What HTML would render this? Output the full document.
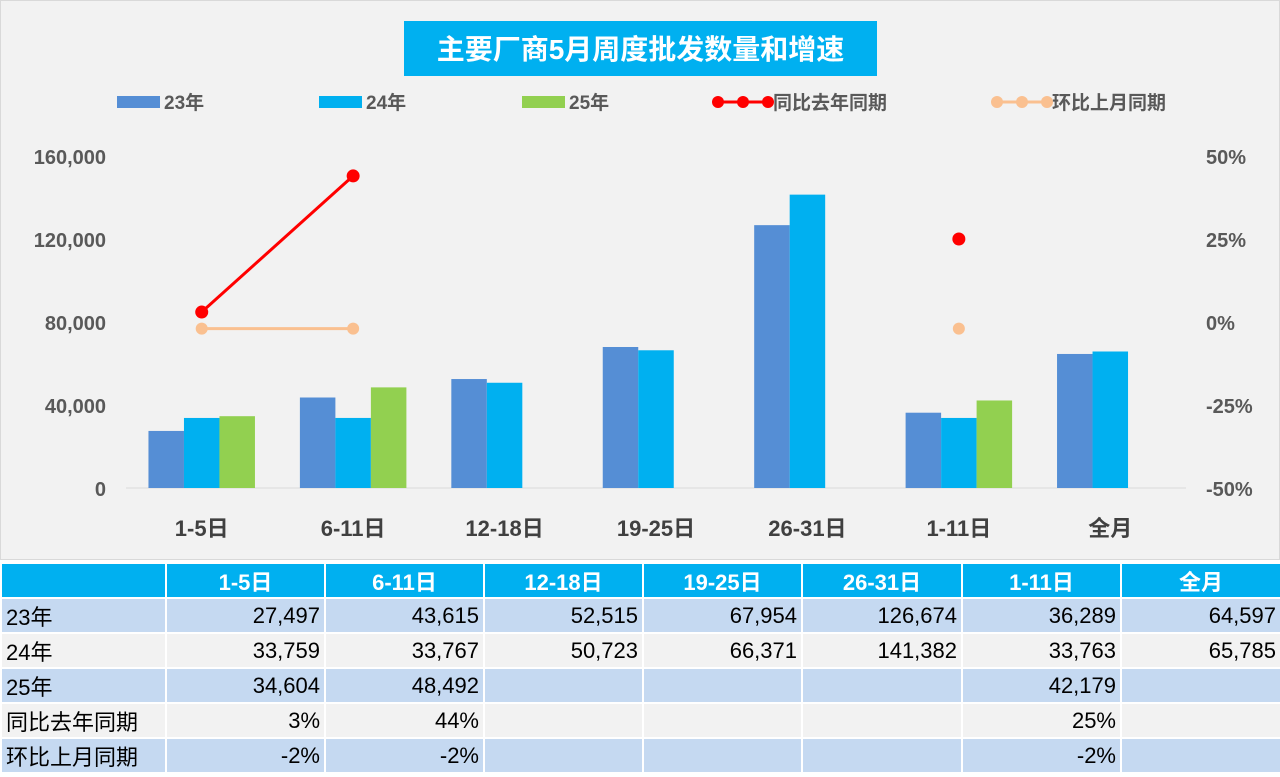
<!DOCTYPE html>
<html><head><meta charset="utf-8"><style>
body{margin:0;width:1280px;height:777px;background:#fff;font-family:"Liberation Sans","Noto Sans CJK SC",sans-serif;overflow:hidden}
#chart{position:absolute;left:0;top:0;width:1280px;height:560px;background:#f2f2f2;border:1px solid #d9d9d9;box-sizing:border-box}
table{position:absolute;left:0;top:562px;border-collapse:collapse;width:1280px;table-layout:fixed}
td{height:33px;border:2px solid #fff;font-size:22px;color:#000;padding:0 4px;text-align:right;white-space:nowrap}
td:first-child{text-align:left}
tr.h td{background:#00b0f0;color:#fff;font-weight:bold;text-align:center;height:33px}
tr.b td{background:#c5d9f1}
tr.g td{background:#f2f2f2}
</style></head><body>
<svg id="chart" width="1280" height="560" xmlns="http://www.w3.org/2000/svg"></svg>
<table>
<colgroup><col style="width:165px"><col style="width:159px"><col style="width:159px"><col style="width:159px"><col style="width:159px"><col style="width:160px"><col style="width:159px"><col style="width:160px"></colgroup>
<tr class="h"><td></td><td>1-5日</td><td>6-11日</td><td>12-18日</td><td>19-25日</td><td>26-31日</td><td>1-11日</td><td>全月</td></tr>
<tr class="b"><td>23年</td><td>27,497</td><td>43,615</td><td>52,515</td><td>67,954</td><td>126,674</td><td>36,289</td><td>64,597</td></tr>
<tr class="g"><td>24年</td><td>33,759</td><td>33,767</td><td>50,723</td><td>66,371</td><td>141,382</td><td>33,763</td><td>65,785</td></tr>
<tr class="b"><td>25年</td><td>34,604</td><td>48,492</td><td></td><td></td><td></td><td>42,179</td><td></td></tr>
<tr class="g"><td>同比去年同期</td><td>3%</td><td>44%</td><td></td><td></td><td></td><td>25%</td><td></td></tr>
<tr class="b"><td>环比上月同期</td><td>-2%</td><td>-2%</td><td></td><td></td><td></td><td>-2%</td><td></td></tr>
</table>
<script>
const categories=["1-5日","6-11日","12-18日","19-25日","26-31日","1-11日","全月"];
const s23=[27497,43615,52515,67954,126674,36289,64597];
const s24=[33759,33767,50723,66371,141382,33763,65785];
const s25=[34604,48492,null,null,null,42179,null];
const yoy=[3,44,null,null,null,25,null];
const mom=[-2,-2,null,null,null,-2,null];
const leftTicks=["0","40,000","80,000","120,000","160,000"];
const rightTicks=["-50%","-25%","0%","25%","50%"];
const svg=document.getElementById('chart');
const NS="http://www.w3.org/2000/svg";
function mk(t,a,p){const e=document.createElementNS(NS,t);for(const k in a)e.setAttribute(k,a[k]);(p||svg).appendChild(e);return e;}
const x0=125,x1=1185,yB=487,yT=155;
const bw=(x1-x0)/categories.length;
const cx=i=>x0+bw*(i+0.5);
const yL=v=>yB-(v/160000)*(yB-yT);
const yR=v=>yB-((v+50)/100)*(yB-yT);
// title
let tb=mk('rect',{x:403,y:20,width:473,height:55,fill:'#00b0f0'});

let tt=mk('text',{x:639.5,y:58,'text-anchor':'middle','font-size':28,'font-weight':'bold',fill:'#fff'});
tt.textContent='主要厂商5月周度批发数量和增速';

// axis
let ax=mk('line',{x1:x0,x2:x1,y1:yB,y2:yB,stroke:'#d9d9d9','stroke-width':1});

leftTicks.forEach((t,i)=>{const e=mk('text',{x:105,y:yL(i*40000)+8,'text-anchor':'end','font-size':20,'font-weight':'bold',fill:'#595959'});e.textContent=t;
});
rightTicks.forEach((t,i)=>{const e=mk('text',{x:1205,y:yR(-50+i*25)+8,'font-size':20,'font-weight':'bold',fill:'#595959'});e.textContent=t;
});
const cols=['#558ed5','#00b0f0','#92d050'];
const w=35.5;
categories.forEach((c,i)=>{
 [s23,s24,s25].forEach((s,k)=>{const v=s[i];if(v==null)return;
  const r=mk('rect',{x:cx(i)-1.5*w+k*w,y:yL(v),width:w,height:yB-yL(v),fill:cols[k]});
  });
 const t=mk('text',{x:cx(i),y:535,'text-anchor':'middle','font-size':22,'font-weight':'bold',fill:'#404040'});t.textContent=c;
 
});
function line(arr,col,name,r){
 const pts=[];arr.forEach((v,i)=>{if(v!=null)pts.push([cx(i),yR(v),i]);});
 for(let j=0;j<pts.length-1;j++){if(pts[j+1][2]-pts[j][2]===1){const l=mk('line',{x1:pts[j][0],y1:pts[j][1],x2:pts[j+1][0],y2:pts[j+1][1],stroke:col,'stroke-width':3});
  }}
 pts.forEach(p=>{const c=mk('circle',{cx:p[0],cy:p[1],r:r,fill:col});});
}
line(mom,'#fac090','mom',6);
line(yoy,'#ff0000','yoy',6.5);
// legend
const leg=[['rect','#558ed5','23年',116],['rect','#00b0f0','24年',318],['rect','#92d050','25年',521],['line','#ff0000','同比去年同期',717],['line','#fac090','环比上月同期',996]];
leg.forEach(l=>{const g=mk('g',{});
 if(l[0]==='rect'){mk('rect',{x:l[3],y:95,width:43,height:12,fill:l[1]},g);}
 else{mk('line',{x1:l[3],x2:l[3]+50,y1:101,y2:101,stroke:l[1],'stroke-width':3},g);[0,25,50].forEach(d=>mk('circle',{cx:l[3]+d,cy:101,r:6,fill:l[1]},g));}
 const t=mk('text',{x:l[3]+(l[0]==='rect'?47:55),y:108,'font-size':19,'font-weight':'bold',fill:'#595959'},g);t.textContent=l[2];});
</script>
</body></html>
